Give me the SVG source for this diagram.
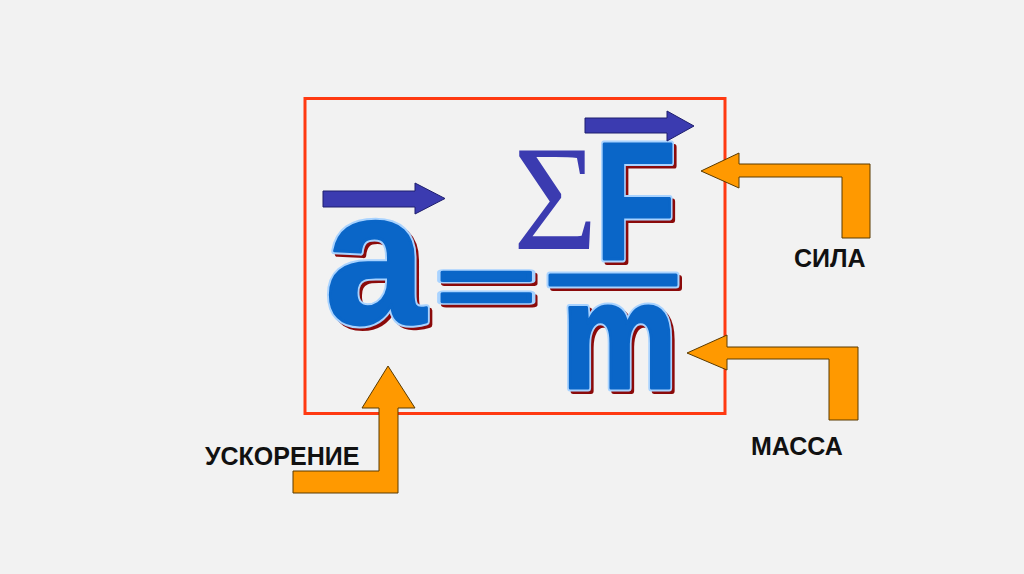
<svg xmlns="http://www.w3.org/2000/svg" xmlns:xlink="http://www.w3.org/1999/xlink" width="1024" height="574" viewBox="0 0 1024 574">
<style>
.glyph{font-family:"Liberation Sans",Arial,sans-serif;font-weight:bold}
.shadow{fill:#8b0a0a;stroke:#8b0a0a;stroke-width:6;stroke-linejoin:round}
.outline{fill:#a9d3ff;stroke:#a9d3ff;stroke-width:7;stroke-linejoin:round}
.face{fill:#0a66c8;stroke:#0a66c8;stroke-width:3;stroke-linejoin:round}
.vec{fill:#3b3bb0;stroke:#1f1f6e;stroke-width:1}
.sigma{font-family:"Liberation Serif","Times New Roman",serif;fill:#3b3bb0}
.callout{fill:#ff9900;stroke:#5a3a00;stroke-width:1;stroke-linejoin:miter}
.label{font-family:"Liberation Sans",Arial,sans-serif;font-weight:bold;font-size:25px;fill:#111}
</style>
<defs>
<text id="ga" class="glyph" font-size="190" transform="translate(325,323) scale(0.95,1)">a</text>
<text id="geq" class="glyph" font-size="100" transform="translate(436,313) scale(1.72,0.8)">=</text>
<rect id="gbar" x="550" y="275" width="126" height="10"/>
<text id="gF" class="glyph" font-size="168" transform="translate(595,259) scale(0.79,1)">F</text>
<text id="gm" class="glyph" font-size="152" transform="translate(561,388) scale(0.86,1)">m</text>
</defs>
<rect width="1024" height="574" fill="#f2f2f2"/>
<g id="formula-box">
<rect x="305" y="98.5" width="420" height="315" fill="none" stroke="#ff3a12" stroke-width="3"/>
</g>
<g id="formula">
<g transform="translate(3,3)">
<use xlink:href="#ga" class="shadow"/><use xlink:href="#geq" class="shadow"/><use xlink:href="#gbar" class="shadow"/><use xlink:href="#gF" class="shadow"/><use xlink:href="#gm" class="shadow"/>
</g>
<use xlink:href="#ga" class="outline"/><use xlink:href="#geq" class="outline"/><use xlink:href="#gbar" class="outline"/><use xlink:href="#gF" class="outline"/><use xlink:href="#gm" class="outline"/>
<use xlink:href="#ga" class="face"/><use xlink:href="#geq" class="face"/><use xlink:href="#gbar" class="face"/><use xlink:href="#gF" class="face"/><use xlink:href="#gm" class="face"/>
<text class="sigma" font-size="150" transform="translate(513,249) scale(0.97,1)">Σ</text>
<polygon class="vec" points="323,191 415,191 415,183 445,198.5 415,214 415,207 323,207"/>
<polygon class="vec" points="585,118 667,118 667,111 694,126 667,141 667,133 585,133"/>
</g>
<g id="connectors">
<polygon class="callout" points="701,171 739,153 739,164 870,164 870,238 842,238 842,177 739,177 739,188"/>
<polygon class="callout" points="687,353 727,335 727,347 858,347 858,420 829,420 829,359 727,359 727,370"/>
<polygon class="callout" points="388,366 415,408 398,408 398,493 293,493 293,471 379,471 379,408 362,408"/>
</g>
<g id="label-sila"><text class="label" x="794" y="267">СИЛА</text></g>
<g id="label-massa"><text class="label" x="751" y="455">МАССА</text></g>
<g id="label-uskorenie"><text class="label" x="205" y="465">УСКОРЕНИЕ</text></g>
</svg>
